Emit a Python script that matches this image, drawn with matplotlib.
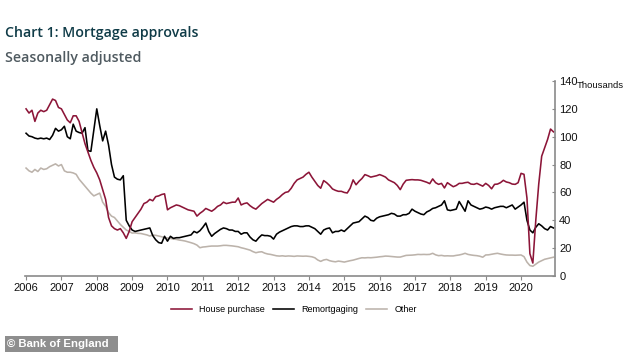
import matplotlib
matplotlib.use("Agg")
import matplotlib.pyplot as plt
import numpy as np
from matplotlib.lines import Line2D
from matplotlib.patches import Rectangle

years = list(range(2006, 2021))

house_purchase = [
    120, 117, 119, 111, 117, 119, 118, 119, 123, 127, 126, 121,   # 2006
    120, 116, 112, 110, 115, 115, 111, 103, 95, 89, 83, 78,       # 2007
    74, 69, 62, 55, 42, 36, 34, 33, 34, 31, 27, 32,               # 2008
    39, 42, 45, 48, 52, 53, 55, 54, 57, 57.5, 58.5, 59,           # 2009
    47.5, 49, 50, 51, 50.5, 49.5, 48.5, 47.5, 47, 46.5, 43, 45,   # 2010
    46.5, 48.5, 47.5, 46.5, 48, 50, 51, 53, 52, 52.5, 53, 53,     # 2011
    56, 51, 52, 52.5, 50.5, 49, 48, 50, 52, 53.5, 55, 54,         # 2012
    53, 55, 56.5, 58.5, 60, 60.5, 63, 66.5, 69, 70, 71, 73,       # 2013
    74.5, 71, 68, 65, 63, 68.5, 67, 65, 62.5, 61.5, 60.8, 60.8,   # 2014
    60, 59.6, 63, 69, 65.5, 68, 70, 72.8, 72, 71, 71.5, 72,       # 2015
    72.8, 72, 71, 69, 68, 67, 65, 62, 66, 68.7, 69, 69.2,         # 2016
    69, 69, 68.7, 68, 67.3, 66.3, 69.7, 67, 65.8, 66.5, 63.2, 67, # 2017
    65.5, 64.1, 65, 66.5, 66.5, 67, 67.3, 66, 65.8, 66.5, 65.5, 64.5,  # 2018
    66.5, 65, 62.6, 65.8, 66, 67, 68.7, 67.5, 67, 66, 65.8, 67,   # 2019
    73.7, 73, 56, 16, 9.3, 40, 66, 86, 92, 98, 105.5, 103.5,      # 2020
]

remortgaging = [
    102.5, 100.5, 100, 99, 98.5, 99, 98.5, 99, 98, 101, 106, 104,  # 2006
    105, 107.5, 100, 98.5, 109, 104, 103, 102.5, 106.5, 90, 89.5, 105,  # 2007
    120, 108, 97, 104, 94, 80, 71, 69.5, 69, 72, 40, 36,          # 2008
    33, 32, 32.5, 33, 33.5, 34, 34.5, 29, 26, 24, 23.5, 28.5,     # 2009
    25, 28.5, 27, 27.5, 27.5, 28, 28.5, 29, 29.5, 32, 31, 32.5,   # 2010
    35, 38, 32, 28.5, 30.5, 32, 33.5, 34.5, 34, 33, 33, 32,       # 2011
    32, 30, 31, 31, 28, 26, 25, 27.5, 29.5, 29, 29, 28.5,         # 2012
    26.5, 30, 31.5, 32.5, 33.5, 34.5, 35.5, 36, 36, 35.5, 35.5, 36,  # 2013
    36, 35, 34, 32, 30, 33, 34, 34.5, 31, 32, 32, 33,             # 2014
    32, 34, 36, 38, 38.5, 39, 41, 43, 42, 40, 39.5, 41.5,         # 2015
    42.5, 43, 43.5, 44, 45, 44.5, 43, 43, 44, 44, 45, 48,         # 2016
    46.5, 45.5, 44.5, 44, 46, 47, 48.5, 49, 50, 51, 54, 47.5,     # 2017
    47, 47.5, 48, 53.5, 50, 46.5, 54, 51, 50, 49, 48, 48.5,       # 2018
    49.5, 49, 48, 49, 49.5, 50, 50, 49, 50, 51, 48, 49.5,         # 2019
    51, 53, 40, 33, 31, 35, 37.5, 36, 34, 33, 35.5, 34.5,         # 2020
]

other = [
    77.5, 75.5, 74.5, 76.5, 75, 77.5, 76.5, 77, 78.5, 79.5, 80.5, 79,  # 2006
    80, 75.5, 74.5, 74.5, 74, 73, 69.5, 67, 64.5, 62, 59.5, 57.5,      # 2007
    58.5, 59.5, 53, 50, 45.5, 43, 42, 39.5, 37, 35, 33, 32,            # 2008
    30.8, 31, 30.6, 30.5, 30, 29.5, 28.7, 29.4, 29.2, 28.7, 28.2, 27.5,  # 2009
    27.3, 27, 26.5, 26.3, 25.8, 25.5, 25.1, 24.5, 23.9, 23.2, 22.2, 20.3,  # 2010
    20.8, 21, 21.3, 21.5, 21.5, 21.5, 21.7, 22, 22, 21.8, 21.6, 21.3,  # 2011
    21, 20.3, 19.8, 19.2, 18.6, 17.5, 16.7, 17.2, 17.4, 16.4, 15.8, 15.5,  # 2012
    15, 14.5, 14.3, 14.5, 14.2, 14.4, 14.3, 14.1, 14.4, 14.3, 14.2, 14.3,  # 2013
    14.1, 13.8, 13.1, 11.5, 10.5, 11.5, 11.9, 11, 10.5, 10.2, 10.7, 10.4,  # 2014
    10, 10.5, 11, 11.4, 12, 12.6, 13.1, 13, 13.2, 13.1, 13.3, 13.5,    # 2015
    13.8, 14, 14.3, 14.2, 14, 13.8, 13.6, 13.6, 14.2, 14.8, 14.9, 15,  # 2016
    15.2, 15.5, 15.4, 15.5, 15.4, 15.5, 16.3, 15.2, 14.6, 14.8, 14.4, 14.5,  # 2017
    14.4, 14.4, 14.8, 15.1, 15.6, 16.3, 15.5, 15.1, 14.8, 14.6, 14.2, 13.5,  # 2018
    15.1, 15.2, 15.6, 16, 16.3, 15.8, 15.4, 15.1, 15, 15, 14.9, 15,    # 2019
    15.1, 13.9, 10, 7.5, 7, 8.5, 10, 11, 12, 12.5, 13, 13.5,           # 2020
]

series_names = ["House purchase", "Remortgaging", "Other"]
y_ticks = [0, 20, 40, 60, 80, 100, 120, 140]

RED = "#8c1538"
BLACK = "#000000"
GREY = "#bcb3ab"
AXIS_GREY = "#8a8a8a"

W, H = 634, 352
n = len(house_purchase)
dates = 2006 + np.arange(n) / 12.0

fig = plt.figure(figsize=(W / 100, H / 100), dpi=100)
fig.patch.set_facecolor("white")
ax = fig.add_axes([25 / W, 1 - 276 / H, (555 - 25) / W, (276 - 81) / H])

LW = 1.15
ax.plot(dates, other, color=GREY, lw=LW, solid_joinstyle="round")
ax.plot(dates, remortgaging, color=BLACK, lw=LW, solid_joinstyle="round")
ax.plot(dates, house_purchase, color=RED, lw=LW, solid_joinstyle="round")

ax.set_xlim(2006 - 0.03, 2020.96)
ax.set_ylim(0, 140)

for s in ["left", "top"]:
    ax.spines[s].set_visible(False)
for s in ["right", "bottom"]:
    ax.spines[s].set_color(AXIS_GREY)
    ax.spines[s].set_linewidth(1.2)

ax.yaxis.tick_right()
ax.set_yticks(y_ticks)
ax.set_yticklabels([str(v) for v in y_ticks])
ax.tick_params(axis="y", direction="in", length=2, width=0.8, color=AXIS_GREY,
               pad=3, labelsize=8, labelcolor="#111111")
ax.set_xticks(years)
ax.set_xticklabels([str(y) for y in years])
ax.tick_params(axis="x", direction="out", length=3, width=0.8, color=AXIS_GREY,
               pad=2, labelsize=8, labelcolor="#111111")
for lab in ax.get_xticklabels() + ax.get_yticklabels():
    lab.set_fontfamily("Liberation Sans")

fig.text(577 / W, 1 - 85 / H, "Thousands", fontsize=6.8, family="Liberation Sans",
         color="#111111", va="center", ha="left")

fig.text(5 / W, 1 - 33 / H, "Chart 1: Mortgage approvals", fontsize=10.2,
         family="Open Sans", weight="semibold", color="#0f3b47", va="center", ha="left")
fig.text(5 / W, 1 - 58 / H, "Seasonally adjusted", fontsize=10.2,
         family="Open Sans", weight="semibold", color="#4f5a60", va="center", ha="left")

handles = [Line2D([0], [0], color=RED, lw=LW),
           Line2D([0], [0], color=BLACK, lw=LW),
           Line2D([0], [0], color=GREY, lw=LW)]
fig.legend(handles, series_names, loc="center", bbox_to_anchor=(294 / W, 1 - 310 / H),
           ncol=3, frameon=False, prop={"family": "Liberation Sans", "size": 6.5},
           handlelength=2.3, handletextpad=0.8, columnspacing=0.9)

fig.patches.append(Rectangle((5 / W, 0), 113 / W, 16 / H, transform=fig.transFigure,
                             facecolor="#8e8e8e", edgecolor="none"))
fig.text(7 / W, 8 / H, "© Bank of England", fontsize=8.2, family="Liberation Sans",
         weight="bold", color="white", va="center", ha="left")

fig.savefig("out.png", dpi=100, facecolor="white")
